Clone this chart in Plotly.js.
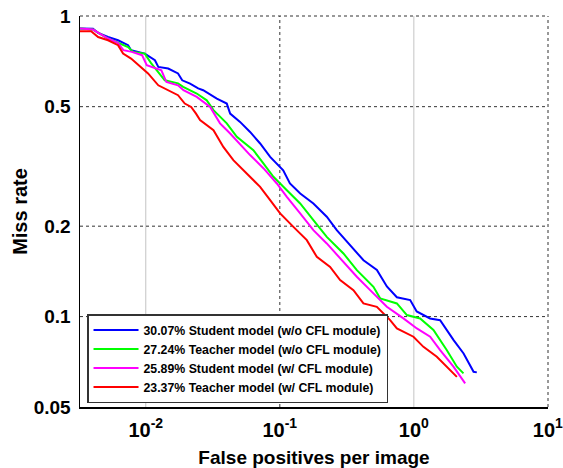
<!DOCTYPE html>
<html>
<head>
<meta charset="utf-8">
<script src="https://cdn.plot.ly/plotly-3.0.1.min.js"></script>
<style>html,body{margin:0;padding:0;background:#fff;}#chart{width:563px;height:468px;}</style>
</head>
<body>
<div id="chart"></div>
<script>
// ---- data (false positives per image vs. miss rate) ----
const seriesNames = [
  "30.07% Student model (w/o CFL module)",
  "27.24% Teacher model (w/o CFL module)",
  "25.89% Student model (w/ CFL module)",
  "23.37% Teacher model (w/ CFL module)"
];
const seriesColors = ["#0000FF", "#00FF00", "#FF00FF", "#FF0000"];

const studentNoCflX = [0.00323,0.00404,0.00441,0.00523,0.00621,0.00738,0.00777,0.00983,0.0117,0.0124,0.0147,0.0174,0.0187,0.0214,0.0246,0.0268,0.0339,0.0402,0.0426,0.0505,0.0600,0.0713,0.0847,0.106,0.119,0.142,0.178,0.224,0.266,0.335,0.421,0.530,0.629,0.747,0.939,1.05,1.32,1.57,1.76,1.98,2.35,2.79,2.95];
const studentNoCflY = [0.910,0.909,0.880,0.853,0.832,0.801,0.771,0.751,0.714,0.678,0.670,0.645,0.612,0.597,0.575,0.567,0.532,0.512,0.474,0.445,0.412,0.377,0.340,0.307,0.2775,0.257,0.238,0.215,0.194,0.173,0.154,0.143,0.126,0.116,0.1135,0.104,0.0986,0.0973,0.0902,0.0835,0.0754,0.0655,0.0652];

const teacherNoCflX = [0.00323,0.00404,0.00523,0.00621,0.00738,0.00804,0.00983,0.01095,0.01386,0.0174,0.0190,0.0240,0.0285,0.0320,0.0402,0.0478,0.0635,0.0754,0.0896,0.1128,0.1418,0.178,0.224,0.2983,0.3755,0.4995,0.5604,0.747,0.887,1.114,1.400,1.763,2.094,2.345];
const teacherNoCflY = [0.910,0.903,0.843,0.815,0.790,0.761,0.751,0.698,0.612,0.598,0.582,0.553,0.525,0.487,0.440,0.397,0.358,0.3235,0.292,0.2636,0.238,0.2096,0.1843,0.1623,0.1428,0.1257,0.115,0.1106,0.1012,0.0986,0.0902,0.0773,0.0681,0.0647];

const studentCflX = [0.00323,0.00404,0.00523,0.00621,0.00681,0.00786,0.00938,0.01017,0.01307,0.01425,0.0174,0.0191,0.0240,0.0302,0.0358,0.0426,0.0600,0.0754,0.0950,0.1128,0.1418,0.178,0.224,0.2818,0.3755,0.472,0.629,0.836,1.053,1.323,1.571,1.975,2.414];
const studentCflY = [0.910,0.903,0.843,0.815,0.771,0.761,0.742,0.687,0.661,0.604,0.589,0.567,0.539,0.499,0.440,0.407,0.345,0.312,0.2775,0.2504,0.2206,0.1941,0.1752,0.1565,0.1357,0.1225,0.1078,0.0986,0.0913,0.0857,0.0773,0.0681,0.0599];

const teacherCflX = [0.00323,0.00391,0.00441,0.00523,0.00621,0.00677,0.00777,0.00922,0.01040,0.0124,0.0147,0.0174,0.01954,0.0218,0.0237,0.0254,0.0320,0.0379,0.0450,0.0567,0.0713,0.0847,0.1005,0.1263,0.1590,0.1888,0.2373,0.2818,0.3542,0.4205,0.5295,0.6653,0.747,0.9931,1.179,1.484,1.763,2.094];
const teacherCflY = [0.891,0.891,0.853,0.832,0.801,0.751,0.723,0.678,0.645,0.589,0.567,0.546,0.512,0.499,0.474,0.451,0.4175,0.3673,0.3317,0.2996,0.2704,0.2442,0.2206,0.1990,0.1797,0.1581,0.1464,0.1323,0.1225,0.1106,0.1078,0.0973,0.0913,0.0857,0.0793,0.0735,0.0681,0.0630];

const xTickVals = [0.01, 0.1, 1, 10];
const xTickText = ["10<sup>-2</sup>", "10<sup>-1</sup>", "10<sup>0</sup>", "10<sup>1</sup>"];
const yTickVals = [0.05, 0.1, 0.2, 0.5, 1];
const yTickText = ["0.05", "0.1", "0.2", "0.5", "1"];
const xRange = [0.00323, 10.02];
const yRange = [0.05, 1.002];
const solidGridX = [0.01, 1];
const dashedGridX = [0.1];
const dashedGridY = [0.1, 0.2, 0.5];

const xs = [studentNoCflX, teacherNoCflX, studentCflX, teacherCflX];
const ys = [studentNoCflY, teacherNoCflY, studentCflY, teacherCflY];

const FONT = "Arial, 'Liberation Sans', sans-serif";
const traces = seriesNames.map((n, i) => ({
  x: xs[i], y: ys[i], name: n, type: "scatter", mode: "lines",
  line: {color: seriesColors[i], width: 2}
}));

const DASH = {color: "#333", width: 1, dash: "3px,3px"};
const shapes = [];
solidGridX.forEach(v => shapes.push({type: "line", xref: "x", yref: "paper", x0: v, x1: v, y0: 0, y1: 1, layer: "below", line: {color: "#c4c4c4", width: 1}}));
dashedGridX.forEach(v => shapes.push({type: "line", xref: "x", yref: "paper", x0: v, x1: v, y0: 0, y1: 1, layer: "below", line: DASH}));
dashedGridY.forEach(v => shapes.push({type: "line", xref: "paper", yref: "y", x0: 0, x1: 1, y0: v, y1: v, layer: "below", line: DASH}));
// dashed top and right frame of the plot box
shapes.push({type: "line", xref: "paper", yref: "paper", x0: 0, x1: 1, y0: 1, y1: 1, layer: "below", line: DASH});
shapes.push({type: "line", xref: "paper", yref: "paper", x0: 1, x1: 1, y0: 0, y1: 1, layer: "below", line: DASH});

const layout = {
  width: 563, height: 468,
  margin: {l: 80, r: 15, t: 16, b: 61},
  paper_bgcolor: "#fff", plot_bgcolor: "#fff",
  showlegend: true,
  font: {family: FONT, color: "#000"},
  xaxis: {
    type: "log", range: xRange.map(Math.log10),
    tickvals: xTickVals, ticktext: xTickText, ticklabeloverflow: "allow",
    tickfont: {family: FONT, size: 20, weight: 700, color: "#000"},
    showgrid: false, zeroline: false, showline: true, linecolor: "#000", linewidth: 1.5,
    ticks: "", ticklabelstandoff: 4,
    title: {text: "False positives per image", font: {family: FONT, size: 19, weight: 700, color: "#000"}, standoff: 11}
  },
  yaxis: {
    type: "log", range: yRange.map(Math.log10),
    tickvals: yTickVals, ticktext: yTickText, ticklabeloverflow: "allow",
    tickfont: {family: FONT, size: 19, weight: 700, color: "#000"},
    showgrid: false, zeroline: false, showline: true, linecolor: "#000", linewidth: 1.5,
    ticks: "", ticklabelstandoff: 4,
    title: {text: "Miss rate", font: {family: FONT, size: 20, weight: 700, color: "#000"}, standoff: 0}
  },
  legend: {
    x: 0.015, y: 0.01, xanchor: "left", yanchor: "bottom",
    bgcolor: "#fff", bordercolor: "#333", borderwidth: 1.5,
    font: {family: FONT, size: 12.3, weight: 700, color: "#000"},
    itemwidth: 45, tracegroupgap: 0
  },
  shapes: shapes
};

Plotly.newPlot("chart", traces, layout, {displayModeBar: false, staticPlot: true});
</script>
</body>
</html>
